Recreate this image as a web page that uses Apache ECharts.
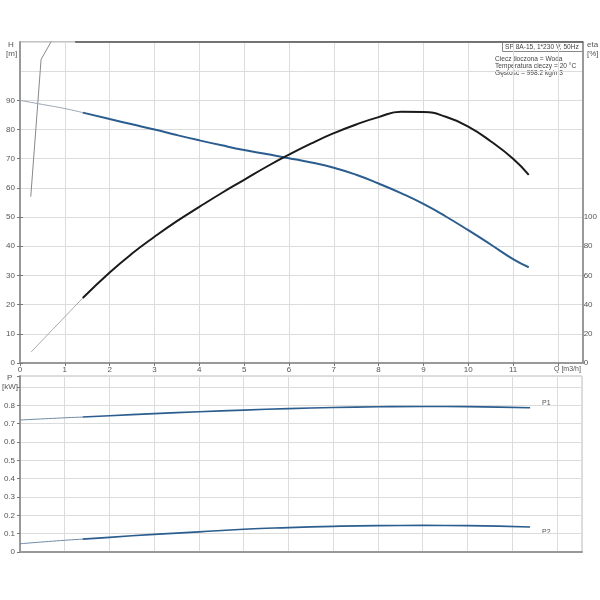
<!DOCTYPE html>
<html><head><meta charset="utf-8">
<script src="https://cdn.jsdelivr.net/npm/echarts@6/dist/echarts.min.js"></script>
<style>html,body{margin:0;padding:0;background:#fff}#c{width:600px;height:600px}</style>
</head><body><div id="c"></div>
<script>
// ---- data ----
const hThinQ = [0, 0.5, 1, 1.4];
const hThinH = [90, 88.6, 87.2, 85.8];
const hQ = [1.4, 2, 2.5, 3, 3.5, 4, 4.5, 5, 5.5, 6, 6.5, 7, 7.5, 8, 8.5, 9, 9.5, 10, 10.5, 11, 11.35];
const hH = [85.8, 83.6, 81.8, 80, 78.1, 76.3, 74.6, 73, 71.6, 70.2, 68.7, 66.9, 64.5, 61.5, 58.2, 54.5, 50.2, 45.5, 40.6, 35.6, 32.8];
const etaThinQ = [0.25, 1.4];
const etaThinV = [7.6, 44.5];
const etaQ = [1.4, 2, 2.5, 3, 3.5, 4, 4.5, 5, 5.5, 6, 6.5, 7, 7.5, 8, 8.5, 9, 9.5, 10, 10.5, 11, 11.35];
const etaV = [44.5, 62, 75, 86.5, 97.2, 107, 116.5, 125.5, 134.5, 142.8, 150.5, 157.5, 163.5, 168.5, 172.2, 172.0, 168.8, 162, 152, 140, 129];
const steepQ = [0.24, 0.47, 0.8];
const steepH = [57, 104, 113];
const topQ = [1.23, 12.56];
const topH = [110, 110];
const p1ThinQ = [0, 1, 1.4];
const p1ThinV = [0.72, 0.732, 0.736];
const p1Q = [1.4, 2, 3, 4, 5, 6, 7, 8, 9, 10, 11.4];
const p1V = [0.736, 0.743, 0.755, 0.765, 0.774, 0.782, 0.788, 0.792, 0.794, 0.793, 0.787];
const p2ThinQ = [0, 1, 1.4];
const p2ThinV = [0.045, 0.064, 0.07];
const p2Q = [1.4, 2, 3, 4, 5, 6, 7, 8, 9, 10, 11.4];
const p2V = [0.07, 0.08, 0.096, 0.11, 0.124, 0.133, 0.14, 0.144, 0.145, 0.144, 0.136];
const titleText = 'SP 8A-15, 1*230 V, 50Hz';
const infoLines = ['Ciecz tłoczona = Woda', 'Temperatura cieczy = 20 °C', 'Gęstość = 998.2 kg/m3'];

const zip = (a, b) => a.map((v, i) => [v, b[i]]);
const FONT = 'Liberation Sans';
const lab = {fontSize: 8, color: '#555', fontFamily: FONT};
const grid = {show: true, lineStyle: {color: '#dcdcdc', width: 1}};
const axLine = {show: true, lineStyle: {color: '#999', width: 2}};
const tick = {show: true, length: 3, lineStyle: {color: '#777'}};
const TOP = 42, H0 = 321;

const chart = echarts.init(document.getElementById('c'));
chart.setOption({
  animation: false,
  grid: [
    {left: 20, right: 17, top: TOP, height: H0, show: true, borderColor: '#888', borderWidth: 1},
    {left: 20, right: 18, top: 376, height: 176, show: true, borderColor: '#bbb', borderWidth: 1},
    {left: 20, right: 17, top: TOP + H0 * 20 / 110, height: H0 * 90 / 110},
    {left: 20, right: 17, top: TOP + H0 * 120 / 220, height: H0 * 100 / 220}
  ],
  xAxis: [
    {gridIndex: 0, type: 'value', min: 0, max: 12.56, interval: 1,
     axisLine: axLine, axisTick: {show: true, length: 3, lineStyle: {color: '#777'}}, splitLine: grid,
     axisLabel: Object.assign({margin: 3, showMaxLabel: false, formatter: v => (Number.isInteger(v) && v < 12) ? String(v) : ''}, lab)},
    {gridIndex: 1, type: 'value', min: 0, max: 12.56, interval: 1,
     axisLine: axLine, axisTick: {show: false}, splitLine: grid, axisLabel: {show: false}},
    {gridIndex: 2, type: 'value', min: 0, max: 12.56, show: false},
    {gridIndex: 3, type: 'value', min: 0, max: 12.56, show: false}
  ],
  yAxis: [
    {gridIndex: 0, type: 'value', min: 0, max: 110, interval: 10,
     axisLine: axLine, axisTick: {show: false}, splitLine: grid, axisLabel: {show: false}},
    {gridIndex: 0, type: 'value', position: 'right', min: 0, max: 220, interval: 20,
     axisLine: axLine, axisTick: {show: false}, splitLine: {show: false}, axisLabel: {show: false}},
    {gridIndex: 1, type: 'value', min: 0, max: 0.96, interval: 0.1,
     axisLine: axLine, axisTick: tick, splitLine: grid,
     axisLabel: Object.assign({margin: 5, formatter: v => v < 0.85 ? (v === 0 ? '0' : v.toFixed(1)) : ''}, lab)},
    {gridIndex: 2, type: 'value', min: 0, max: 90, interval: 10,
     axisLine: {show: false}, axisTick: tick, splitLine: {show: false},
     axisLabel: Object.assign({margin: 5}, lab)},
    {gridIndex: 3, type: 'value', position: 'right', min: 0, max: 100, interval: 20,
     axisLine: {show: false}, axisTick: tick, splitLine: {show: false},
     axisLabel: Object.assign({margin: 5}, lab)}
  ],
  series: [
    {type: 'line', xAxisIndex: 0, yAxisIndex: 0, data: zip(steepQ, steepH), showSymbol: false, lineStyle: {color: '#888', width: 1}},
    {type: 'line', xAxisIndex: 0, yAxisIndex: 0, data: zip(topQ, topH), showSymbol: false, clip: false, lineStyle: {color: '#555', width: 1.5}},
    {type: 'line', xAxisIndex: 0, yAxisIndex: 0, data: zip(hThinQ, hThinH), smooth: 0.5, showSymbol: false, lineStyle: {color: '#9aa6b2', width: 1}},
    {type: 'line', xAxisIndex: 0, yAxisIndex: 0, data: zip(hQ, hH), smooth: 0.5, showSymbol: false, lineStyle: {color: '#2b5d8e', width: 2}},
    {type: 'line', xAxisIndex: 0, yAxisIndex: 1, data: zip(etaThinQ, etaThinV), showSymbol: false, lineStyle: {color: '#aaa', width: 1}},
    {type: 'line', xAxisIndex: 0, yAxisIndex: 1, data: zip(etaQ, etaV), smooth: 0.5, showSymbol: false, lineStyle: {color: '#1a1a1a', width: 2}},
    {type: 'line', xAxisIndex: 1, yAxisIndex: 2, data: zip(p1ThinQ, p1ThinV), smooth: 0.5, showSymbol: false, lineStyle: {color: '#6f8aa6', width: 1}},
    {type: 'line', xAxisIndex: 1, yAxisIndex: 2, data: zip(p1Q, p1V), smooth: 0.5, showSymbol: false, lineStyle: {color: '#2b5d8e', width: 1.6}},
    {type: 'line', xAxisIndex: 1, yAxisIndex: 2, data: zip(p2ThinQ, p2ThinV), smooth: 0.5, showSymbol: false, lineStyle: {color: '#6f8aa6', width: 1}},
    {type: 'line', xAxisIndex: 1, yAxisIndex: 2, data: zip(p2Q, p2V), smooth: 0.5, showSymbol: false, lineStyle: {color: '#2b5d8e', width: 1.6}}
  ],
  graphic: [
    {type: 'text', left: 8, top: 41, style: {text: 'H', font: '8px "Liberation Sans"', fill: '#555'}},
    {type: 'text', left: 6, top: 50, style: {text: '[m]', font: '8px "Liberation Sans"', fill: '#555'}},
    {type: 'text', left: 7, top: 374, style: {text: 'P', font: '8px "Liberation Sans"', fill: '#555'}},
    {type: 'text', left: 2, top: 383, style: {text: '[kW]', font: '8px "Liberation Sans"', fill: '#555'}},
    {type: 'text', left: 587, top: 41, style: {text: 'eta', font: '8px "Liberation Sans"', fill: '#555'}},
    {type: 'text', left: 587, top: 50, style: {text: '[%]', font: '8px "Liberation Sans"', fill: '#555'}},
    {type: 'text', left: 554, top: 366, style: {text: 'Q [m3/h]', font: '7px "Liberation Sans"', fill: '#555'}},
    {type: 'rect', shape: {x: 502.5, y: 42.5, width: 80, height: 9}, style: {fill: '#fff', stroke: '#888', lineWidth: 1}},
    {type: 'text', left: 505, top: 43.5, style: {text: titleText, font: '6.6px "Liberation Sans"', fill: '#444'}},
    {type: 'text', left: 495, top: 55.5, style: {text: infoLines[0], font: '6.6px "Liberation Sans"', fill: '#444'}},
    {type: 'text', left: 495, top: 62.5, style: {text: infoLines[1], font: '6.6px "Liberation Sans"', fill: '#444'}},
    {type: 'text', left: 495, top: 69.5, style: {text: infoLines[2], font: '6.6px "Liberation Sans"', fill: '#444'}},
    {type: 'text', left: 542, top: 400, style: {text: 'P1', font: '7px "Liberation Sans"', fill: '#555'}},
    {type: 'text', left: 542, top: 529, style: {text: 'P2', font: '7px "Liberation Sans"', fill: '#555'}}
  ]
});
</script></body></html>
